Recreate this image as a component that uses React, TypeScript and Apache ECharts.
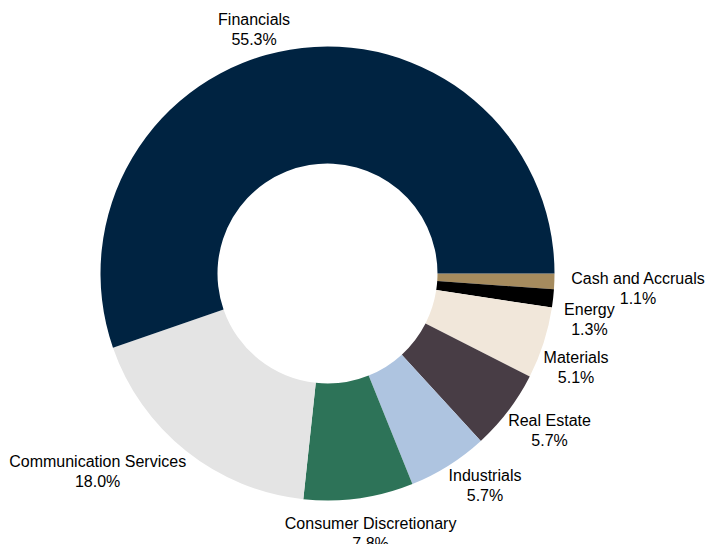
import React, { useEffect, useRef } from "react";
import * as echarts from "echarts";

const categories = [
  "Cash and Accruals",
  "Energy",
  "Materials",
  "Real Estate",
  "Industrials",
  "Consumer Discretionary",
  "Communication Services",
  "Financials",
];
const weights = [1.1, 1.3, 5.1, 5.7, 5.7, 7.8, 18.0, 55.3];
const colors = [
  "#A58B5E",
  "#000000",
  "#F1E7DA",
  "#483D45",
  "#AEC4E0",
  "#2D7358",
  "#E4E4E4",
  "#002341",
];

const CX = 327.5;
const CY = 273.5;
const R0 = 110;
const R1 = 227;
const PAD = 4;

const clamp = (v: number) => Math.max(-1, Math.min(1, v));

export default function App() {
  const ref = useRef<HTMLDivElement>(null);
  useEffect(() => {
    document.body.style.margin = "0";
    const chart = echarts.init(ref.current!, undefined, { renderer: "svg" });
    const total = weights.reduce((a, b) => a + b, 0);
    const mids: number[] = [];
    let acc = 0;
    weights.forEach((w) => {
      mids.push(((acc + w / 2) / total) * Math.PI * 2);
      acc += w;
    });
    const placed: Record<number, { x1: number; x2: number; y1: number; y2: number; right: boolean }> = {};
    const font = "'Liberation Sans', Arial, sans-serif";
    chart.setOption({
      animation: false,
      backgroundColor: "#ffffff",
      series: [
        {
          type: "pie",
          center: [CX, CY],
          radius: [R0, R1],
          startAngle: 0,
          clockwise: true,
          avoidLabelOverlap: false,
          data: categories.map((name, i) => ({
            name,
            value: weights[i],
            itemStyle: { color: colors[i] },
          })),
          label: {
            show: true,
            position: "outside",
            overflow: "none",
            fontFamily: font,
            fontSize: 16,
            lineHeight: 20,
            color: "#000000",
            formatter: (p: any) => `{a|${p.name}}\n{a|${p.value.toFixed(1)}%}`,
            rich: {
              a: {
                align: "center",
                fontFamily: font,
                fontSize: 16,
                lineHeight: 20,
                color: "#000000",
              },
            },
          },
          labelLine: { show: false },
          labelLayout: (params: any) => {
            const i = params.dataIndex;
            const a = mids[i];
            const dx = Math.cos(a);
            const dy = Math.sin(a);
            const hw = params.labelRect.width / 2;
            const hh = params.labelRect.height / 2;
            const extra = Math.max(0, 19 - 73 * Math.abs(dy));
            const R = R1 + extra;
            const fx = Math.abs(dx) < 0.15 ? dx : clamp(dx * 6);
            const fy = clamp(dy * 10);
            const x = CX + R * dx + hw * fx;
            let y = CY + R * dy + hh * fy;
            const right = dx > 0;
            const prev = placed[i - 1];
            if (prev && prev.right && right && extra === 0) {
              const x1 = x - hw;
              const x2 = x + hw;
              const top = y - hh - PAD;
              if (x1 < prev.x2 && x2 > prev.x1 && top < prev.y2) {
                y += prev.y2 - top;
              }
            }
            placed[i] = {
              x1: x - hw,
              x2: x + hw,
              y1: y - hh - PAD,
              y2: y + hh + PAD,
              right,
            };
            return { x, y, align: "center", verticalAlign: "middle" };
          },
          emphasis: { disabled: true },
        },
      ],
    });
    return () => chart.dispose();
  }, []);
  return <div ref={ref} style={{ width: 705, height: 544 }} />;
}
